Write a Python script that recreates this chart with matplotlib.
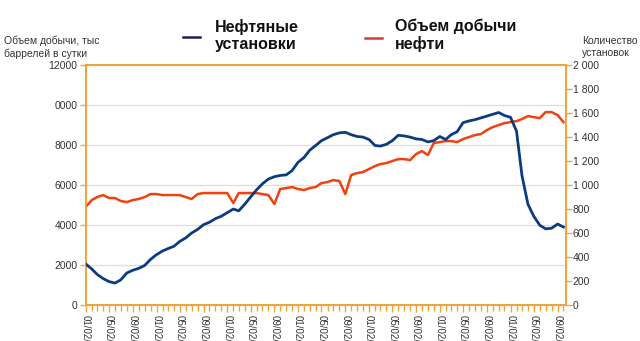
import matplotlib

matplotlib.use("Agg")
import matplotlib.pyplot as plt
import matplotlib.dates as mdates
import pandas as pd
from matplotlib.lines import Line2D

plt.rcParams["font.family"] = ["Liberation Sans", "DejaVu Sans"]

# monthly points, Jan 2009 .. Oct 2015
months = pd.date_range("2009-01-01", periods=82, freq="MS") + pd.Timedelta(days=1)

rigs = [
    342, 300, 255, 220, 195, 183, 210, 267, 290, 305,
    330, 380, 420, 450, 470, 490, 530, 560, 600, 630,
    670, 690, 720, 740, 770, 800, 785, 840, 900, 960,
    1010, 1050, 1070, 1080, 1085, 1120, 1190, 1230, 1290, 1330,
    1370, 1395, 1420, 1435, 1440, 1420, 1405, 1400, 1380, 1330,
    1325, 1340, 1370, 1415, 1410, 1400, 1385, 1380, 1360, 1370,
    1405, 1380, 1420, 1445, 1520, 1535, 1545, 1560, 1575, 1590,
    1605, 1580, 1565, 1450, 1080, 840, 740, 665, 635, 640,
    675, 650,
]

production = [
    4900, 5250, 5400, 5500, 5350, 5350, 5200, 5150, 5250, 5300,
    5400, 5550, 5550, 5500, 5500, 5500, 5500, 5400, 5300, 5550,
    5600, 5600, 5600, 5600, 5600, 5100, 5600, 5600, 5600, 5600,
    5550, 5500, 5050, 5800, 5850, 5900, 5800, 5750, 5850, 5900,
    6100, 6150, 6250, 6200, 5550, 6500, 6600, 6650, 6800, 6950,
    7050, 7100, 7200, 7300, 7300, 7250, 7550, 7700, 7500, 8100,
    8150, 8200, 8200, 8150, 8300, 8400, 8500, 8550, 8750, 8900,
    9000, 9100, 9150, 9200, 9300, 9450, 9400, 9350, 9650, 9650,
    9500, 9150,
]

left_ticks = [0, 2000, 4000, 6000, 8000, 10000, 12000]
left_labels = ["0", "2000", "4000", "6000", "8000", "0000", "12000"]
right_ticks = [0, 200, 400, 600, 800, 1000, 1200, 1400, 1600, 1800, 2000]
right_labels = ["0", "200", "400", "600", "800", "1 000", "1 200",
                "1 400", "1 600", "1 800", "2 000"]

ORANGE = "#f0a43a"
RED = "#f0420f"
BLUE = "#0b3d7e"
TEXT = "#333333"

fig = plt.figure(figsize=(6.4, 3.41), dpi=100)
ax = fig.add_axes([0.134, 0.1056, 0.75, 0.7034])
ax2 = ax.twinx()

ax.plot(months, production, color=RED, linewidth=1.8, zorder=3)
ax2.plot(months, rigs, color=BLUE, linewidth=2.0, zorder=3)

ax.set_ylim(0, 12000)
ax2.set_ylim(0, 2000)
ax.set_xlim(months[0], months[-1] + pd.Timedelta(days=12))

ax.set_yticks(left_ticks)
ax.set_yticklabels(left_labels)
ax2.set_yticks(right_ticks)
ax2.set_yticklabels(right_labels)
ax.grid(True, axis="y", color="#dcdcdc", linewidth=0.9)
ax.set_axisbelow(True)

ax.xaxis.set_major_locator(mdates.MonthLocator(bymonth=[1, 5, 9], bymonthday=2))
ax.xaxis.set_minor_locator(mdates.MonthLocator(bymonthday=2))
ax.xaxis.set_major_formatter(mdates.DateFormatter("%m/%d/%Y"))

for a in (ax, ax2):
    for s in a.spines.values():
        s.set_color(ORANGE)
        s.set_linewidth(1.3)
    a.tick_params(colors=ORANGE, labelcolor=TEXT, labelsize=7.5, width=1.0)
ax.tick_params(axis="x", which="major", length=5, pad=2, labelsize=7)
ax.tick_params(axis="x", which="minor", length=4, color=ORANGE, width=1.0)
ax.tick_params(axis="y", length=4, pad=2)
ax2.tick_params(axis="y", length=4, pad=1)
for lab in ax.get_xticklabels():
    lab.set_rotation(-90)
    lab.set_va("top")
    lab.set_ha("center")

fig.text(0.006, 0.862, "Объем добычи, тыс\nбаррелей в сутки", fontsize=7.5,
         color=TEXT, va="center", ha="left", linespacing=1.3)
fig.text(0.909, 0.862, "Количество\nустановок", fontsize=7.5,
         color=TEXT, va="center", ha="left", linespacing=1.3)

fig.add_artist(Line2D([0.286, 0.313], [0.891, 0.891], color="#1c2058", linewidth=1.8))
fig.text(0.336, 0.897, "Нефтяные\nустановки", fontsize=11.5, weight="bold",
         color="#111111", va="center", ha="left", linespacing=1.15)
fig.add_artist(Line2D([0.570, 0.597], [0.888, 0.888], color="#d9393b", linewidth=1.8))
fig.text(0.617, 0.897, "Объем добычи\nнефти", fontsize=11.5, weight="bold",
         color="#111111", va="center", ha="left", linespacing=1.15)

fig.savefig("out.png", dpi=100)
plt.close(fig)
